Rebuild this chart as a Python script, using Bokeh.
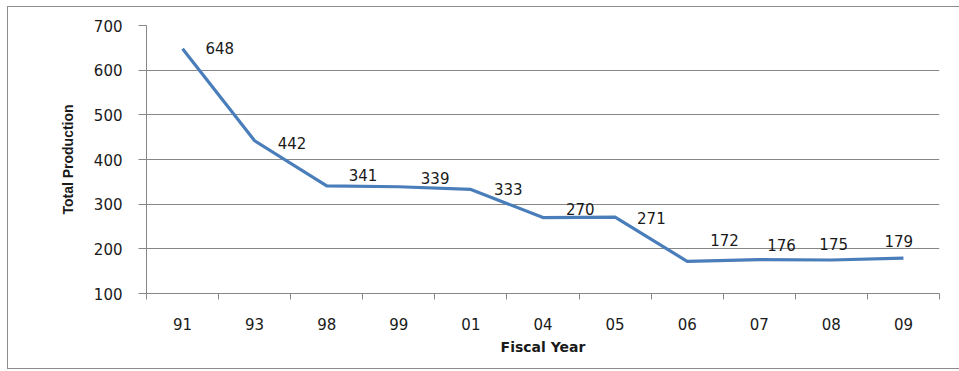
from bokeh.plotting import figure
from bokeh.models import (ColumnDataSource, FixedTicker, LabelSet, Range1d,
                          InlineStyleSheet)
from bokeh.core.properties import value
from bokeh.embed import file_html
from bokeh.resources import INLINE

years = ["91", "93", "98", "99", "01", "04", "05", "06", "07", "08", "09"]
production = [648, 442, 341, 339, 333, 270, 271, 172, 176, 175, 179]
y_ticks = [100, 200, 300, 400, 500, 600, 700]

# label placement (pixels), styling only
label_dx = [23, 23, 22, 22, 23, 23, 22, 23, 8, -12, -19]
label_dy = [1, -2, 11, 9, 0, 9, -1, 21, 15, 16, 17]

xs = [i + 0.5 for i in range(len(years))]
src = ColumnDataSource(dict(x=xs, y=production, t=[str(v) for v in production],
                            dx=label_dx, dy=label_dy))

GRID = "#878787"
TXT = "#1a1a1a"
BLUE = "#4A7EBB"

p = figure(width=959, height=371, output_backend="svg", toolbar_location=None,
           x_range=Range1d(0, len(years)), y_range=Range1d(100, 700),
           min_border_left=146, min_border_right=20, min_border_top=25,
           min_border_bottom=78, background_fill_color="white",
           border_fill_color="white", outline_line_color=None)

p.line("x", "y", source=src, line_color=BLUE, line_width=3.2)

labels = LabelSet(x="x", y="y", text="t", source=src, x_offset="dx", y_offset="dy",
                  text_align="left", text_baseline="middle",
                  text_font=value("DejaVu Sans"), text_font_size=value("15px"),
                  text_color=TXT)
p.add_layout(labels)

# x axis
p.xaxis.ticker = FixedTicker(ticks=xs, minor_ticks=list(range(len(years) + 1)))
p.xaxis.major_label_overrides = {x: y for x, y in zip(xs, years)}
p.xaxis.major_tick_out = 0
p.xaxis.major_tick_in = 0
p.xaxis.minor_tick_out = 6
p.xaxis.minor_tick_in = 0
p.xaxis.minor_tick_line_color = GRID
p.xaxis.axis_line_color = GRID
p.xaxis.major_label_standoff = 18
p.xaxis.major_label_text_font = "DejaVu Sans"
p.xaxis.major_label_text_font_size = "15px"
p.xaxis.major_label_text_color = TXT
p.xaxis.axis_label = "Fiscal Year"
p.xaxis.axis_label_text_font = "DejaVu Sans"
p.xaxis.axis_label_text_font_style = "bold"
p.xaxis.axis_label_text_font_size = "14px"
p.xaxis.axis_label_text_color = TXT
p.xaxis.axis_label_standoff = 6

# y axis
p.yaxis.ticker = FixedTicker(ticks=y_ticks)
p.yaxis.major_tick_out = 8
p.yaxis.major_tick_in = 0
p.yaxis.minor_tick_line_color = None
p.yaxis.major_tick_line_color = GRID
p.yaxis.axis_line_color = GRID
p.yaxis.major_label_standoff = 16
p.yaxis.major_label_text_font = "DejaVu Sans"
p.yaxis.major_label_text_font_size = "15px"
p.yaxis.major_label_text_color = TXT
p.yaxis.axis_label = "Total Production"
p.yaxis.axis_label_text_font = "Liberation Sans"
p.yaxis.axis_label_text_font_style = "bold"
p.yaxis.axis_label_text_font_size = "14px"
p.yaxis.axis_label_text_color = TXT
p.yaxis.axis_label_standoff = 15

p.xgrid.grid_line_color = None
p.ygrid.ticker = FixedTicker(ticks=y_ticks)
p.ygrid.grid_line_color = GRID
p.ygrid.grid_line_width = 1

# outer chart-area border (open on the right, as in the reference)
p.stylesheets = [InlineStyleSheet(css="""
:host::after {
  content: '';
  position: absolute;
  left: 7px; top: 6px;
  width: 952px; height: 363px;
  box-sizing: border-box;
  border: 1.5px solid #8c8c8c;
  border-right: none;
  pointer-events: none;
}
""")]

open("out.html", "w").write(file_html(p, INLINE))
